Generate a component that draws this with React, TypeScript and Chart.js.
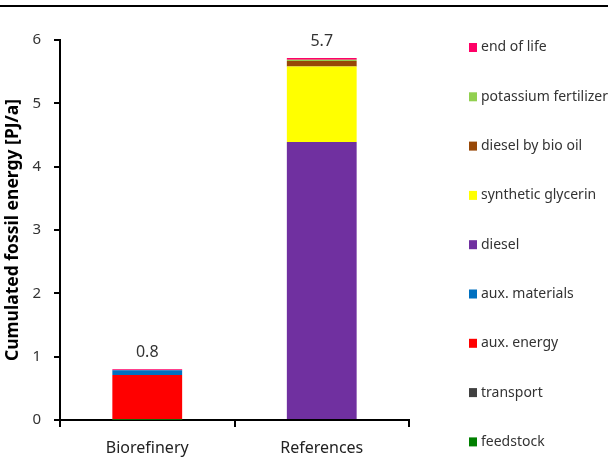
import React, { useEffect, useRef } from 'react';
import { Chart, registerables } from 'chart.js';

Chart.register(...registerables);

const categories = ['Biorefinery', 'References'];

const feedstock = [0.005, 0];
const transport = [0.005, 0];
const auxEnergy = [0.7, 0];
const auxMaterials = [0.075, 0];
const diesel = [0, 4.39];
const syntheticGlycerin = [0, 1.19];
const dieselByBioOil = [0, 0.09];
const potassiumFertilizer = [0.002, 0.02];
const endOfLife = [0.015, 0.025];

const yMin = 0;
const yMax = 6;
const yStep = 1;

const FONT = '"Noto Sans", sans-serif';

const series = [
  { label: 'feedstock', data: feedstock, color: '#008000' },
  { label: 'transport', data: transport, color: '#404040' },
  { label: 'aux. energy', data: auxEnergy, color: '#FF0000' },
  { label: 'aux. materials', data: auxMaterials, color: '#0070C0' },
  { label: 'diesel', data: diesel, color: '#7030A0' },
  { label: 'synthetic glycerin', data: syntheticGlycerin, color: '#FFFF00' },
  { label: 'diesel by bio oil', data: dieselByBioOil, color: '#984807' },
  { label: 'potassium fertilizer', data: potassiumFertilizer, color: '#92D050' },
  { label: 'end of life', data: endOfLife, color: '#FF0066' },
];

const extrasPlugin = {
  id: 'extras',
  beforeDraw(chart: any) {
    const ctx = chart.ctx;
    ctx.save();
    ctx.fillStyle = '#000';
    ctx.fillRect(0, 5, chart.width, 2);
    ctx.restore();
  },
  afterDraw(chart: any) {
    const ctx = chart.ctx;
    const xs = chart.scales.x;
    const ys = chart.scales.y;
    ctx.save();
    // totals
    ctx.fillStyle = '#333';
    ctx.font = `16px ${FONT}`;
    ctx.textAlign = 'center';
    ctx.textBaseline = 'middle';
    categories.forEach((_, i) => {
      let total = 0;
      chart.data.datasets.forEach((ds: any) => (total += ds.data[i]));
      const x = xs.getPixelForValue(i);
      const y = ys.getPixelForValue(total) - 17;
      ctx.fillText(total.toFixed(1), x, y);
    });
    // legend
    const dsets = chart.data.datasets.slice().reverse();
    const x0 = 469;
    const yTop = 47.5;
    const step = 49.3;
    ctx.font = `14px ${FONT}`;
    ctx.textAlign = 'left';
    dsets.forEach((ds: any, k: number) => {
      const y = yTop + k * step;
      ctx.fillStyle = ds.backgroundColor;
      ctx.fillRect(x0, y - 4.5, 8, 9);
      ctx.fillStyle = '#333';
      ctx.fillText(ds.label, x0 + 12, y);
    });
    ctx.restore();
  },
};

export default function App() {
  const ref = useRef<HTMLCanvasElement>(null);
  useEffect(() => {
    document.body.style.margin = '0';
    const chart = new Chart(ref.current!, {
      type: 'bar',
      data: {
        labels: categories,
        datasets: series.map((s) => ({
          label: s.label,
          data: s.data,
          backgroundColor: s.color,
          borderWidth: 0,
          categoryPercentage: 1,
          barPercentage: 0.4,
        })),
      },
      options: {
        animation: false,
        responsive: false,
        layout: { padding: { top: 40, right: 199, left: 0, bottom: 0 } },
        plugins: { legend: { display: false }, tooltip: { enabled: false } },
        scales: {
          x: {
            stacked: true,
            afterFit: (s: any) => {
              s.height = 37;
            },
            border: { display: true, color: '#000', width: 2 },
            grid: {
              offset: true,
              drawOnChartArea: false,
              drawTicks: true,
              tickLength: 7,
              color: '#000',
              lineWidth: 2,
            },
            ticks: { color: '#222', font: { family: FONT, size: 16 }, padding: 12 },
          },
          y: {
            stacked: true,
            min: yMin,
            max: yMax,
            afterFit: (s: any) => {
              s.width = 60;
            },
            border: { display: true, color: '#000', width: 2 },
            grid: {
              drawOnChartArea: false,
              drawTicks: true,
              tickLength: 6,
              color: '#000',
              lineWidth: 2,
            },
            ticks: {
              stepSize: yStep,
              color: '#333',
              font: { family: FONT, size: 15 },
              padding: 13,
            },
            title: {
              display: true,
              text: 'Cumulated fossil energy [PJ/a]',
              color: '#000',
              font: { family: FONT, size: 17.5, weight: 'bold' },
              padding: { top: 3, bottom: 0 },
            },
          },
        },
      },
      plugins: [extrasPlugin],
    });
    return () => chart.destroy();
  }, []);
  return (
    <div style={{ width: 608, height: 457, position: 'relative' }}>
      <canvas ref={ref} width={608} height={457} style={{ display: 'block' }} />
    </div>
  );
}
